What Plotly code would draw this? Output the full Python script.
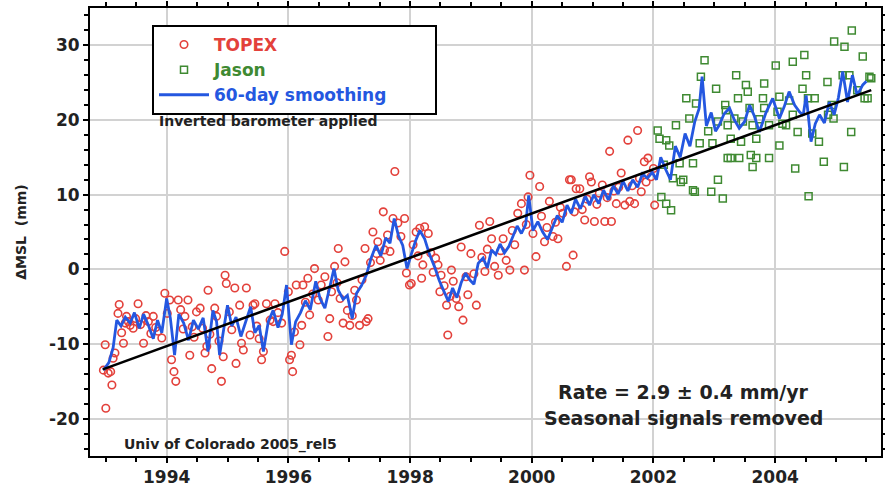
import plotly.graph_objects as go

# ---------------- data ----------------
topex_year = [1992.96, 1992.99, 1993.00, 1993.04, 1993.08, 1993.10, 1993.12, 1993.15, 1993.20, 1993.22,
              1993.26, 1993.29, 1993.32, 1993.34, 1993.37, 1993.40, 1993.45, 1993.49, 1993.53, 1993.57,
              1993.62, 1993.66, 1993.70, 1993.74, 1993.78, 1993.82, 1993.86, 1993.92, 1993.97, 1994.01,
              1994.05, 1994.08, 1994.12, 1994.15, 1994.19, 1994.23, 1994.27, 1994.30, 1994.35, 1994.38,
              1994.42, 1994.45, 1994.49, 1994.55, 1994.59, 1994.63, 1994.66, 1994.68, 1994.71, 1994.74,
              1994.79, 1994.82, 1994.86, 1994.90, 1994.93, 1994.96, 1994.98, 1995.03, 1995.07, 1995.12,
              1995.14, 1995.20, 1995.23, 1995.26, 1995.31, 1995.37, 1995.42, 1995.45, 1995.48, 1995.52,
              1995.56, 1995.59, 1995.64, 1995.70, 1995.75, 1995.78, 1995.83, 1995.89, 1995.94, 1996.00,
              1996.02, 1996.05, 1996.07, 1996.10, 1996.13, 1996.19, 1996.22, 1996.24, 1996.28, 1996.32,
              1996.35, 1996.40, 1996.43, 1996.49, 1996.54, 1996.60, 1996.65, 1996.68, 1996.71, 1996.76,
              1996.80, 1996.82, 1996.85, 1996.90, 1996.93, 1996.97, 1997.01, 1997.05, 1997.09, 1997.12,
              1997.17, 1997.21, 1997.26, 1997.28, 1997.31, 1997.35, 1997.39, 1997.45, 1997.47, 1997.51,
              1997.56, 1997.58, 1997.63, 1997.67, 1997.72, 1997.75, 1997.80, 1997.85, 1997.91, 1997.94,
              1997.99, 1998.02, 1998.05, 1998.10, 1998.13, 1998.16, 1998.19, 1998.21, 1998.24, 1998.30,
              1998.34, 1998.38, 1998.42, 1998.46, 1998.49, 1998.51, 1998.56, 1998.60, 1998.62, 1998.66,
              1998.68, 1998.71, 1998.76, 1998.80, 1998.84, 1998.87, 1998.92, 1998.95, 1999.00, 1999.05,
              1999.09, 1999.14, 1999.18, 1999.23, 1999.27, 1999.31, 1999.34, 1999.39, 1999.45, 1999.49,
              1999.53, 1999.58, 1999.64, 1999.68, 1999.72, 1999.77, 1999.83, 1999.88, 1999.91, 1999.94,
              1999.97, 2000.02, 2000.07, 2000.13, 2000.16, 2000.21, 2000.25, 2000.29, 2000.35, 2000.39,
              2000.43, 2000.47, 2000.51, 2000.57, 2000.62, 2000.65, 2000.68, 2000.70, 2000.73, 2000.79,
              2000.83, 2000.87, 2000.91, 2000.95, 2000.98, 2001.03, 2001.07, 2001.11, 2001.16, 2001.20,
              2001.24, 2001.28, 2001.31, 2001.35, 2001.39, 2001.43, 2001.47, 2001.53, 2001.58, 2001.61,
              2001.65, 2001.69, 2001.74, 2001.77, 2001.80, 2001.85, 2001.88, 2001.91, 2001.96, 2002.00,
              2002.02]
topex_mm = [-13.5, -10.1, -18.6, -13.9, -13.7, -15.5, -11.9, -11.2, -5.9, -4.7,
            -8.5, -9.9, -7.2, -6.3, -7.0, -7.5, -7.9, -6.6, -4.6, -7.4,
            -9.9, -6.2, -7.0, -8.6, -6.3, -7.8, -8.3, -9.2, -3.2, -5.9,
            -4.1, -12.1, -13.7, -15.0, -4.1, -5.4, -8.0, -6.3, -4.1, -11.5,
            -7.7, -9.1, -5.7, -5.2, -7.9, -11.2, -10.3, -2.8, -8.7, -13.3,
            -5.2, -6.3, -9.6, -15.0, -11.7, -0.8, -1.9, -5.7, -8.1, -2.5,
            -12.6, -4.8, -9.9, -10.8, -2.5, -8.8, -4.8, -4.6, -7.6, -9.3,
            -12.1, -11.0, -4.6, -6.8, -7.0, -4.6, -5.8, -7.2, 2.4, -3.0,
            -12.1, -11.5, -13.7, -8.4, -2.1, -10.1, -7.5, -2.1, -4.4, -1.2,
            -6.1, -3.3, 0.1, -4.1, -2.1, -1.0, -9.0, -6.6, -3.0, 0.4,
            -1.8, 2.8, -3.9, -7.2, 1.0, -5.5, -7.5, -6.2, -2.8, -4.1,
            -7.5, -1.4, 2.8, -7.0, -6.6, 0.9, 5.0, 2.1, 3.7, 1.2,
            7.7, 2.6, 4.6, 2.4, 6.8, 13.1, 6.2, 4.4, 6.8, -0.5,
            -2.1, -1.9, 3.3, 5.0, 1.8, 5.5, -1.2, 0.6, 5.7, 4.8,
            2.2, -0.4, 1.5, 0.6, -3.0, -0.8, -2.2, -4.8, -8.8, -3.6,
            -0.1, -1.6, -3.9, -5.0, 3.0, -6.8, -1.0, -3.4, 2.1, -0.6,
            -4.8, 5.9, 1.6, -0.3, 2.7, 6.4, 4.1, 0.4, -0.8, 2.5,
            4.1, 1.2, -0.1, 5.2, 3.3, 7.5, 8.8, -0.1, 6.0, 9.7,
            12.6, 4.8, 1.7, 11.1, 7.1, 3.7, 5.6, 9.1, 4.4, 6.3,
            4.1, 8.3, 7.5, 0.4, 12.0, 12.0, 1.9, 7.7, 10.8, 10.8,
            8.0, 6.6, 9.4, 12.4, 11.7, 6.4, 8.7, 10.2, 11.3, 6.4,
            9.6, 15.8, 6.4, 10.5, 8.8, 11.0, 12.9, 8.6, 17.3, 9.1,
            11.2, 8.8, 18.6, 12.2, 10.4, 14.4, 11.7, 14.9, 12.4, 13.5,
            8.6]

jason_year = [2002.07, 2002.10, 2002.13, 2002.17, 2002.21, 2002.21, 2002.26, 2002.29, 2002.32, 2002.37,
              2002.43, 2002.45, 2002.49, 2002.54, 2002.59, 2002.65, 2002.65, 2002.68, 2002.70, 2002.76,
              2002.78, 2002.84, 2002.90, 2002.95, 2002.97, 2003.03, 2003.06, 2003.06, 2003.14, 2003.18,
              2003.19, 2003.22, 2003.22, 2003.27, 2003.27, 2003.33, 2003.36, 2003.39, 2003.41, 2003.44,
              2003.47, 2003.52, 2003.55, 2003.58, 2003.60, 2003.63, 2003.63, 2003.69, 2003.69, 2003.74,
              2003.80, 2003.82, 2003.82, 2003.90, 2003.90, 2004.01, 2004.04, 2004.07, 2004.07, 2004.12,
              2004.18, 2004.23, 2004.29, 2004.29, 2004.33, 2004.37, 2004.45, 2004.48, 2004.51, 2004.54,
              2004.55, 2004.61, 2004.65, 2004.72, 2004.80, 2004.86, 2004.87, 2004.93, 2004.96, 2004.97,
              2005.11, 2005.13, 2005.14, 2005.22, 2005.25, 2005.26, 2005.35, 2005.44, 2005.47, 2005.52,
              2005.55, 2005.58]
jason_mm = [18.6, 17.5, 9.7, 14.0, 17.3, 8.8, 16.6, 7.9, 12.2, 19.3,
            14.2, 11.7, 12.0, 22.9, 20.2, 14.2, 10.6, 10.4, 22.2, 16.9,
            25.8, 28.0, 18.5, 10.4, 16.9, 24.2, 19.8, 12.0, 9.5, 22.0,
            21.3, 14.9, 19.3, 17.5, 14.9, 20.2, 26.0, 22.9, 14.9, 17.1,
            19.8, 24.7, 23.8, 21.6, 15.3, 13.7, 19.3, 17.5, 14.9, 20.1,
            22.9, 24.9, 21.6, 19.3, 14.9, 27.3, 21.1, 23.1, 16.6, 19.5,
            19.3, 22.6, 27.8, 20.7, 13.5, 18.4, 24.2, 28.7, 26.0, 22.9,
            9.8, 18.2, 22.9, 17.1, 14.4, 25.1, 20.7, 22.0, 20.2, 30.5,
            26.0, 13.7, 29.8, 26.0, 18.4, 32.0, 24.0, 28.5, 22.9, 22.9,
            25.8, 25.6]

smooth_year = [1992.96, 1993.05, 1993.12, 1993.18, 1993.25, 1993.32, 1993.40, 1993.47, 1993.55, 1993.62,
               1993.70, 1993.78, 1993.85, 1993.92, 1994.00, 1994.06, 1994.13, 1994.20, 1994.28, 1994.36,
               1994.44, 1994.52, 1994.60, 1994.68, 1994.76, 1994.82, 1994.87, 1995.00, 1995.07, 1995.14,
               1995.22, 1995.30, 1995.38, 1995.45, 1995.52, 1995.59, 1995.67, 1995.75, 1995.83, 1995.90,
               1995.97, 1996.05, 1996.12, 1996.20, 1996.28, 1996.36, 1996.45, 1996.52, 1996.60, 1996.68,
               1996.75, 1996.82, 1996.90, 1996.97, 1997.05, 1997.12, 1997.20, 1997.28, 1997.36, 1997.44,
               1997.52, 1997.60, 1997.67, 1997.74, 1997.81, 1997.88, 1997.95, 1998.02, 1998.09, 1998.16,
               1998.24, 1998.32, 1998.40, 1998.48, 1998.56, 1998.63, 1998.70, 1998.77, 1998.84, 1998.91,
               1998.98, 1999.05, 1999.12, 1999.20, 1999.27, 1999.34, 1999.41, 1999.48, 1999.55, 1999.62,
               1999.69, 1999.76, 1999.83, 1999.90, 1999.95, 2000.02, 2000.10, 2000.18, 2000.26, 2000.34,
               2000.42, 2000.50, 2000.58, 2000.65, 2000.72, 2000.80, 2000.88, 2000.95, 2001.02, 2001.10,
               2001.18, 2001.26, 2001.34, 2001.42, 2001.50, 2001.58, 2001.66, 2001.74, 2001.82, 2001.90,
               2001.98, 2002.05, 2002.12, 2002.20, 2002.28, 2002.36, 2002.44, 2002.52, 2002.60, 2002.68,
               2002.75, 2002.80, 2002.87, 2002.95, 2003.02, 2003.08, 2003.16, 2003.25, 2003.33, 2003.41,
               2003.50, 2003.58, 2003.66, 2003.74, 2003.85, 2003.96, 2004.07, 2004.15, 2004.23, 2004.32,
               2004.40, 2004.46, 2004.51, 2004.59, 2004.66, 2004.73, 2004.81, 2004.89, 2004.97, 2005.04,
               2005.11, 2005.19, 2005.27, 2005.35, 2005.44, 2005.50]
smooth_mm = [-13.5, -12.5, -10.5, -6.8, -7.6, -6.4, -7.2, -5.8, -7.9, -6.0,
             -7.5, -9.3, -6.8, -8.5, -3.9, -6.5, -11.5, -6.0, -7.2, -9.5,
             -6.8, -8.0, -6.5, -11.0, -5.5, -7.0, -11.5, -4.8, -7.6, -6.4,
             -9.0, -7.0, -5.0, -8.5, -7.5, -11.0, -7.0, -5.5, -7.8, -6.0,
             -2.1, -10.1, -7.0, -5.8, -4.2, -5.4, -1.6, -3.9, -5.2, -2.4,
             0.1, -2.8, -4.0, -3.5, -6.6, -3.2, -2.2, -0.8, 1.5, 3.2,
             1.8, 4.2, 3.5, 6.8, 4.5, 3.2, 0.1, 2.0, 3.8, 5.2,
             4.1, 2.0, 0.4, -1.5, -3.0, -4.3, -2.5, -3.8, -1.8, -0.5,
             -1.4, -2.0, 0.8, 1.5, 0.2, 2.6, 2.0, 3.4, 2.2, 3.0,
             4.4, 5.8, 4.8, 6.0, 9.9, 5.2, 6.4, 5.0, 4.0, 5.6,
             7.2, 6.3, 8.6, 7.5, 9.4, 8.1, 9.8, 8.6, 10.0, 8.8,
             10.6, 9.3, 11.2, 10.1, 11.8, 10.5, 12.0, 11.0, 12.8, 12.2,
             13.0, 12.0, 15.0, 13.4, 12.0, 16.5, 15.0, 18.2, 16.5, 19.8,
             21.5, 25.8, 19.2, 21.0, 18.5, 19.3, 20.8, 21.6, 20.0, 18.9,
             19.8, 22.0, 20.5, 18.4, 21.0, 22.9, 20.2, 21.8, 23.8, 22.0,
             21.1, 20.6, 23.3, 17.1, 19.5, 20.7, 19.6, 22.4, 20.7, 23.0,
             26.5, 22.4, 26.0, 23.3, 24.7, 25.2]

trend_year = [1992.95, 2005.58]
trend_mm = [-13.4, 24.0]

x_tick_vals = [1994, 1996, 1998, 2000, 2002, 2004]
x_tick_text = ["1994", "1996", "1998", "2000", "2002", "2004"]
y_tick_vals = [-20, -10, 0, 10, 20, 30]
y_tick_text = ["-20", "-10", "0", "10", "20", "30"]

# ---------------- figure ----------------
FONT = "DejaVu Sans"
TXT = "#222222"
RED = "#e3413b"
GREEN = "#3f8a32"
BLUE = "#2457e0"
PAD = "\u00a0" * 8  # widens the legend box to the reference's width

fig = go.Figure()
fig.add_trace(go.Scatter(
    x=topex_year, y=topex_mm, mode="markers",
    name="<span style='color:%s'><b>TOPEX</b></span>" % RED,
    marker=dict(symbol="circle-open", size=7.5, color=RED, line=dict(width=1.6)),
))
fig.add_trace(go.Scatter(
    x=jason_year, y=jason_mm, mode="markers",
    name="<span style='color:%s'><b>Jason</b></span>" % GREEN,
    marker=dict(symbol="square-open", size=7, color=GREEN, line=dict(width=1.5)),
))
fig.add_trace(go.Scatter(
    x=smooth_year, y=smooth_mm, mode="lines",
    name="<span style='color:%s'><b>60-day smoothing</b></span>%s" % (BLUE, PAD),
    line=dict(color=BLUE, width=2.8),
))
fig.add_trace(go.Scatter(
    x=trend_year, y=trend_mm, mode="lines", showlegend=False,
    line=dict(color="black", width=2.6),
))

axis_common = dict(
    showline=True, linecolor="black", linewidth=2, mirror="ticks",
    ticks="outside", ticklen=5, tickwidth=1.5, tickcolor="black",
    showgrid=True, gridcolor="#d2d2d2", gridwidth=1.5, zeroline=False,
    tickfont=dict(family=FONT, size=17, color=TXT),
    automargin=False,
)

fig.update_xaxes(
    range=[1992.74, 2005.74], tickvals=x_tick_vals,
    ticktext=["<b>%s</b>" % t for t in x_tick_text],
    minor=dict(dtick=0.5, tick0=1994, ticks="outside", ticklen=4, tickcolor="black", showgrid=False),
    **axis_common,
)
fig.update_yaxes(
    range=[-25, 35], tickvals=y_tick_vals,
    ticktext=["<b>%s</b>" % t for t in y_tick_text],
    minor=dict(dtick=2, tick0=0, ticks="outside", ticklen=4, tickcolor="black", showgrid=False),
    title=dict(text="<b>\u0394MSL  (mm)</b>", font=dict(family=FONT, size=14, color=TXT), standoff=19),
    **axis_common,
)

fig.update_layout(
    width=885, height=489,
    margin=dict(l=90, r=4, t=8, b=33),
    paper_bgcolor="white", plot_bgcolor="white",
    showlegend=True,
    legend=dict(
        x=(152 - 90) / 791, y=(456 - 25) / 448, xanchor="left", yanchor="top",
        bgcolor="white", bordercolor="black", borderwidth=2,
        font=dict(family=FONT, size=17), tracegroupgap=0,
        itemwidth=50,
    ),
    annotations=[
        dict(text="<b>Inverted barometer applied</b>", xref="paper", yref="paper",
             x=(157 - 90) / 791, y=(456 - 121) / 448, xanchor="left", yanchor="middle",
             showarrow=False, font=dict(family=FONT, size=14, color=TXT)),
        dict(text="<b>Univ of Colorado 2005_rel5</b>", xref="paper", yref="paper",
             x=(122 - 90) / 791, y=(456 - 444) / 448, xanchor="left", yanchor="middle",
             showarrow=False, font=dict(family=FONT, size=14, color=TXT)),
        dict(text="<b>Rate = 2.9 \u00b1 0.4 mm/yr</b>", xref="paper", yref="paper",
             x=(683 - 90) / 791, y=(456 - 392) / 448, xanchor="center", yanchor="middle",
             showarrow=False, font=dict(family=FONT, size=19, color=TXT)),
        dict(text="<b>Seasonal signals removed</b>", xref="paper", yref="paper",
             x=(683 - 90) / 791, y=(456 - 418) / 448, xanchor="center", yanchor="middle",
             showarrow=False, font=dict(family=FONT, size=19, color=TXT)),
    ],
)

fig.write_html("out.html", config={"displayModeBar": False},
               post_script="document.body.style.margin='0px';")
